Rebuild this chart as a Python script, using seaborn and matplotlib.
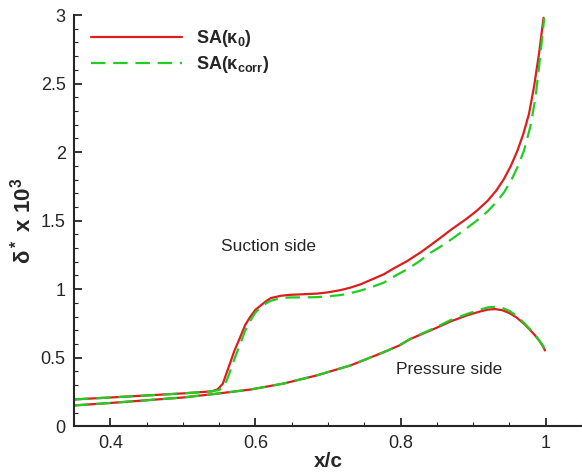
import numpy as np
import pandas as pd
import matplotlib
matplotlib.use("Agg")
import matplotlib.pyplot as plt
from matplotlib.ticker import MultipleLocator, FuncFormatter
import seaborn as sns

# suction side, SA(kappa_0)
suc_x_k0 = [0.35, 0.40, 0.45, 0.50, 0.54, 0.548, 0.555, 0.563, 0.571, 0.579, 0.586, 0.593,
            0.600, 0.607, 0.614, 0.621, 0.635, 0.648, 0.665, 0.685, 0.70, 0.717, 0.73, 0.745,
            0.76, 0.777, 0.79, 0.809, 0.828, 0.841, 0.855, 0.869, 0.89, 0.905, 0.92, 0.932,
            0.942, 0.952, 0.961, 0.969, 0.977, 0.984, 0.991, 0.997]
suc_y_k0 = [0.196, 0.21, 0.225, 0.24, 0.255, 0.27, 0.31, 0.43, 0.55, 0.65, 0.74, 0.80,
            0.85, 0.88, 0.91, 0.935, 0.952, 0.959, 0.963, 0.968, 0.977, 0.993, 1.01, 1.036,
            1.07, 1.109, 1.15, 1.205, 1.27, 1.32, 1.375, 1.432, 1.51, 1.572, 1.645, 1.72,
            1.80, 1.90, 2.01, 2.13, 2.28, 2.48, 2.727, 2.98]

# suction side, SA(kappa_corr)
suc_x_kc = [0.35, 0.40, 0.45, 0.50, 0.54, 0.55, 0.557, 0.563, 0.571, 0.579, 0.586, 0.593,
            0.600, 0.607, 0.614, 0.621, 0.635, 0.648, 0.665, 0.685, 0.70, 0.717, 0.73, 0.745,
            0.76, 0.777, 0.79, 0.809, 0.825, 0.841, 0.855, 0.869, 0.89, 0.905, 0.92, 0.932,
            0.943, 0.953, 0.962, 0.97, 0.979, 0.986, 0.992, 0.998]
suc_y_kc = [0.196, 0.21, 0.225, 0.24, 0.255, 0.265, 0.29, 0.37, 0.49, 0.60, 0.70, 0.77,
            0.83, 0.865, 0.895, 0.915, 0.935, 0.94, 0.94, 0.942, 0.948, 0.957, 0.97, 0.99,
            1.015, 1.048, 1.09, 1.145, 1.2, 1.265, 1.31, 1.36, 1.44, 1.50, 1.568, 1.635,
            1.71, 1.80, 1.90, 2.01, 2.19, 2.40, 2.68, 2.98]

# pressure side
prs_x_k0 = [0.35, 0.40, 0.45, 0.50, 0.547, 0.593, 0.639, 0.685, 0.731, 0.777, 0.798, 0.814,
            0.846, 0.869, 0.892, 0.91, 0.92, 0.93, 0.94, 0.95, 0.96, 0.970, 0.978, 0.985,
            0.991, 0.996, 0.999]
prs_y_k0 = [0.152, 0.17, 0.19, 0.21, 0.238, 0.268, 0.312, 0.372, 0.444, 0.541, 0.589, 0.638,
            0.71, 0.765, 0.81, 0.838, 0.851, 0.855, 0.847, 0.826, 0.793, 0.748, 0.705, 0.665,
            0.625, 0.585, 0.553]
prs_x_kc = prs_x_k0
prs_y_kc = [0.152, 0.17, 0.19, 0.21, 0.238, 0.268, 0.312, 0.372, 0.444, 0.541, 0.589, 0.64,
            0.715, 0.775, 0.82, 0.852, 0.867, 0.872, 0.864, 0.842, 0.805, 0.755, 0.71, 0.668,
            0.628, 0.59, 0.56]

lab_k0 = "SA(κ$_0$)"
lab_kc = "SA(κ$_{corr}$)"

frames = []
for xs, ys, model, side in [(suc_x_k0, suc_y_k0, lab_k0, "suction"),
                            (prs_x_k0, prs_y_k0, lab_k0, "pressure"),
                            (suc_x_kc, suc_y_kc, lab_kc, "suction"),
                            (prs_x_kc, prs_y_kc, lab_kc, "pressure")]:
    frames.append(pd.DataFrame({"x": xs, "delta": ys, "model": model, "side": side}))
df = pd.concat(frames, ignore_index=True)

sns.set_style("ticks")
plt.rcParams["font.family"] = ["Liberation Sans", "DejaVu Sans"]
plt.rcParams["mathtext.default"] = "regular"

fig = plt.figure(figsize=(5.82, 4.72), dpi=100)
ax = fig.add_axes([74 / 582, 1 - 426.3 / 472, 1 - 74 / 582, (426.3 - 15) / 472])

sns.lineplot(data=df, x="x", y="delta", hue="model", style="model", units="side",
             estimator=None, sort=False, hue_order=[lab_k0, lab_kc],
             palette={lab_k0: "#dc1e1e", lab_kc: "#22cc22"},
             dashes={lab_k0: "", lab_kc: (6.5, 3.5)}, linewidth=1.6, ax=ax)

ax.set_xlim(0.35, 1.05)
ax.set_ylim(0, 3)
ax.xaxis.set_major_locator(MultipleLocator(0.2))
ax.xaxis.set_minor_locator(MultipleLocator(0.05))
ax.yaxis.set_major_locator(MultipleLocator(0.5))
ax.yaxis.set_minor_locator(MultipleLocator(0.1))
fmt = FuncFormatter(lambda v, p: "%g" % round(v, 3))
ax.xaxis.set_major_formatter(fmt)
ax.yaxis.set_major_formatter(fmt)
ax.tick_params(which="major", direction="in", length=6, width=1.3, labelsize=13, pad=6)
ax.tick_params(which="minor", direction="in", length=3, width=0.8)
for s in ["top", "right"]:
    ax.spines[s].set_visible(False)
for s in ["left", "bottom"]:
    ax.spines[s].set_linewidth(1.5)

ax.set_xlabel("x/c", fontsize=15, fontweight="bold", labelpad=0)
ax.set_ylabel("δ$^*$ x 10$^3$", fontsize=16, fontweight="bold", labelpad=4)

ax.text(0.618, 1.31, "Suction side", fontsize=12.5, ha="center", va="center")
ax.text(0.867, 0.415, "Pressure side", fontsize=12.5, ha="center", va="center")

handles, labels = ax.get_legend_handles_labels()
leg = ax.legend(handles, labels, loc="upper left", bbox_to_anchor=(0.02, 0.985),
                frameon=False, fontsize=13, handlelength=5.0, handletextpad=0.8,
                labelspacing=0.25, borderaxespad=0)
for t in leg.get_texts():
    t.set_fontweight("bold")

fig.savefig("out.png", dpi=100)
